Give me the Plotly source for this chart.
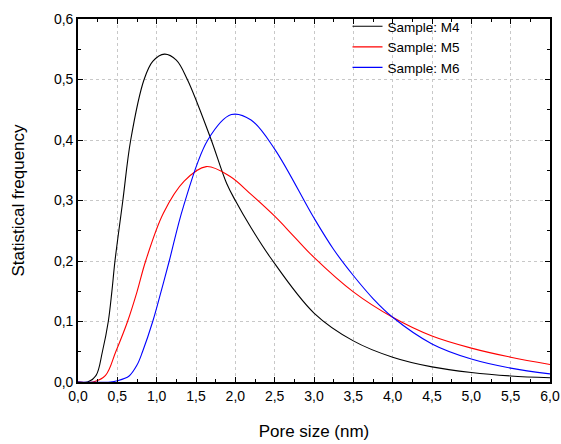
import plotly.graph_objects as go

# Sample M4
m4_x = [0.0, 0.12, 0.23, 0.31, 0.385, 0.43, 0.47, 0.57, 0.67, 0.84, 0.95, 1.1, 1.25, 1.39, 1.68, 1.89, 2.0, 2.2, 2.45, 3.0, 3.5, 4.0, 4.5, 5.0, 5.5, 6.0]
m4_y = [0.0, 0.0, 0.011, 0.05, 0.1, 0.149, 0.2, 0.3, 0.4, 0.5, 0.53, 0.542, 0.532, 0.5, 0.405, 0.328, 0.30, 0.255, 0.205, 0.114, 0.068, 0.041, 0.025, 0.0157, 0.010, 0.007]

# Sample M5
m5_x = [0.0, 0.19, 0.35, 0.48, 0.63, 0.75, 0.86, 1.085, 1.35, 1.63, 1.93, 2.2, 2.5, 2.75, 3.0, 3.5, 4.0, 4.5, 5.0, 5.5, 6.0]
m5_y = [0.0, 0.0, 0.011, 0.05, 0.1, 0.149, 0.2, 0.279, 0.332, 0.356, 0.340, 0.31, 0.274, 0.24, 0.206, 0.149, 0.107, 0.076, 0.056, 0.041, 0.029]

# Sample M6
m6_x = [0.0, 0.41, 0.5, 0.65, 0.75, 0.82, 0.95, 1.055, 1.16, 1.34, 1.65, 1.95, 2.2, 2.5, 3.0, 3.25, 3.5, 3.75, 4.0, 4.5, 5.0, 5.5, 6.0]
m6_y = [0.0, 0.0, 0.002, 0.01, 0.028, 0.05, 0.1, 0.149, 0.2, 0.29, 0.4, 0.442, 0.433, 0.385, 0.271, 0.219, 0.176, 0.138, 0.107, 0.063, 0.038, 0.023, 0.0135]

series = [
    ("Sample: M4", m4_x, m4_y, "black"),
    ("Sample: M5", m5_x, m5_y, "red"),
    ("Sample: M6", m6_x, m6_y, "blue"),
]

fig = go.Figure()
for name, xs, ys, col in series:
    fig.add_trace(go.Scatter(x=xs, y=ys, mode="lines", name=name,
                             line=dict(color=col, width=1.1, shape="spline", smoothing=1.0)))

font = "Liberation Sans, Arial, sans-serif"
axis_common = dict(
    showline=True, linecolor="black", linewidth=1.6, mirror="ticks",
    ticks="inside", ticklen=5, tickcolor="black",
    showgrid=True, gridcolor="#c8c8c8", griddash="dot", gridwidth=1,
    zeroline=False, tickfont=dict(family=font, size=14, color="black"),
    automargin=False,
)

fig.update_layout(
    width=561, height=444,
    margin=dict(l=78, r=11, t=12, b=62),
    paper_bgcolor="white", plot_bgcolor="white",
    separators=",.",
    font=dict(family=font, color="black"),
    showlegend=True,
    legend=dict(x=0.571, y=1.022, xanchor="left", yanchor="top",
                bgcolor="rgba(0,0,0,0)", font=dict(family=font, size=13.5, color="black"),
                tracegroupgap=0, itemwidth=30),
    xaxis=dict(range=[0, 6], dtick=0.5, tickformat=".1f",
               title=dict(text="Pore size (nm)", font=dict(family=font, size=17), standoff=23),
               minor=dict(ticks="inside", ticklen=3, dtick=0.25, tickcolor="black", showgrid=False),
               **axis_common),
    yaxis=dict(range=[0, 0.6], dtick=0.1, tickformat=".1f",
               title=dict(text="Statistical frequency", font=dict(family=font, size=17), standoff=25),
               minor=dict(ticks="inside", ticklen=3, dtick=0.05, tickcolor="black", showgrid=False),
               **axis_common),
)

fig.write_html("out.html")
